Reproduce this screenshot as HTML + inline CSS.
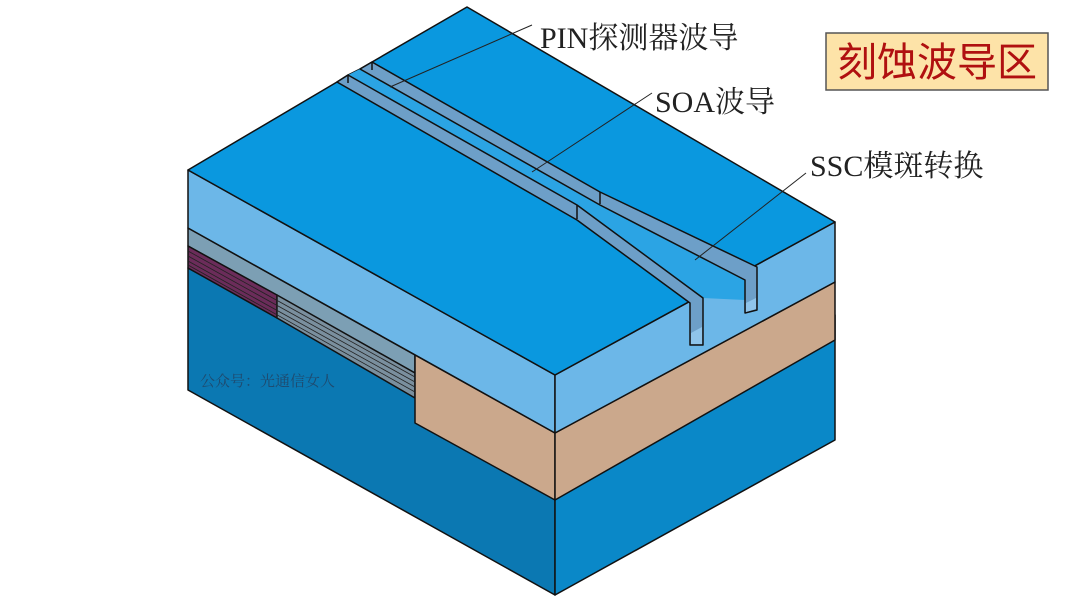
<!DOCTYPE html>
<html><head><meta charset="utf-8"><style>
html,body{margin:0;padding:0;background:#fff;}
svg{display:block}
</style></head><body>
<svg width="1080" height="608" viewBox="0 0 1080 608" xmlns="http://www.w3.org/2000/svg">
<g stroke="#111" stroke-width="1.5" stroke-linejoin="round">
<polygon points="188,268 555,470 555,595 188,390" fill="#0b78b2"/>
<polygon points="555,470 835,315 835,440 555,595" fill="#0a88c8"/>
<polygon points="188,228 415,355 415,373 188,246" fill="#7c9fb4"/>
<polygon points="188,246 277,295 277,318 188,268" fill="#6b2c5a"/>
<polygon points="277,295 415,373 415,398 277,318" fill="#7a8f9e"/>
<polygon points="415,355 555,433 555,500 415,423" fill="#cba88c"/>
<polygon points="555,433 835,282 835,340 555,500" fill="#cba88c"/>
<polygon points="188,170 555,375 555,433 188,228" fill="#6cb7e8"/>
<polygon points="555,375 835,222 835,282 555,433" fill="#6cb7e8"/>
<polygon points="188,170 337,82 348,75 360,69 372,62 467,7 835,222 555,375" fill="#0a98df"/>
</g>
<g stroke="#222" stroke-width="0.8" fill="none">
<line x1="188" y1="251" x2="415" y2="377"/>
<line x1="188" y1="256" x2="415" y2="382"/>
<line x1="188" y1="261" x2="415" y2="387"/>
<line x1="188" y1="265" x2="415" y2="392"/>
<line x1="277" y1="295" x2="277" y2="318"/>
</g>
<g stroke="#111" stroke-width="1.5" stroke-linejoin="round">
<polygon points="348,75 360,69 600,205 745,280 745,300 703,298 577,205" fill="#2ba4e4" stroke="none"/>
<polygon points="337,82 348,75 577,205 703,298 703,345 690,345 690,303 577,220" fill="#6d9fc8"/>
<polygon points="360,69 372,62 600,192 757,267 757,310 745,313 745,280 600,205" fill="#6d9fc8"/>
<line x1="577" y1="205" x2="577" y2="219"/>
<line x1="600" y1="192" x2="600" y2="204"/>
<line x1="348" y1="75" x2="348" y2="83"/>
<line x1="372" y1="62" x2="372" y2="70"/>
</g>
<polygon points="691,333 702,327 702,344 691,344" fill="#8fc4ea"/>
<polygon points="746,303 756,298 756,309 746,312" fill="#8fc4ea"/>
<g stroke="#222" stroke-width="1" fill="none">
<line x1="532" y1="25" x2="390" y2="87"/>
<line x1="652" y1="93" x2="532" y2="172"/>
<line x1="806" y1="173" x2="695" y2="260"/>
</g>
<g font-family="'Liberation Serif','Noto Serif CJK SC',serif" font-size="30" fill="#222">
<text x="540" y="48">PIN探测器波导</text>
<text x="655" y="112">SOA波导</text>
<text x="810" y="176">SSC模斑转换</text>
</g>
<rect x="826" y="33" width="222" height="57" fill="#fde3a8" stroke="#555" stroke-width="1.5"/>
<text x="937" y="76" text-anchor="middle" font-family="'Noto Sans CJK SC',sans-serif" font-size="40" fill="#b01010">刻蚀波导区</text>
<text x="200" y="386" font-family="'Liberation Serif','Noto Serif CJK SC',serif" font-size="15" fill="#1f4a6e">公众号：光通信女人</text>
</svg>
</body></html>
